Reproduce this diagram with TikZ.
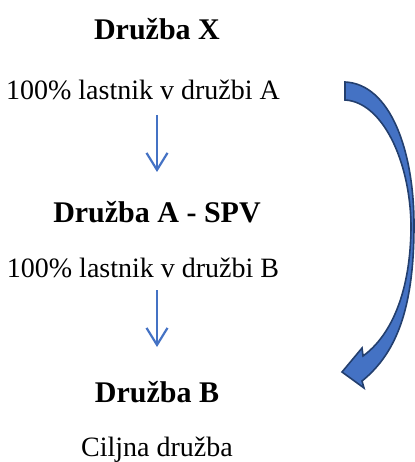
\documentclass[tikz,border=0pt]{standalone}
\usepackage{fontspec}
\setmainfont{Liberation Serif}
\usetikzlibrary{arrows.meta}
\definecolor{accent}{HTML}{4472C4}
\definecolor{accentdark}{HTML}{233F6E}
\tikzset{
  title/.style={anchor=base, font=\fontsize{30}{34}\selectfont\bfseries, inner sep=0pt},
  body/.style={anchor=base, font=\fontsize{28}{32}\selectfont, inner sep=0pt},
  down/.style={draw=accent, line width=2.2pt, -{Straight Barb[length=17pt, width=21pt, line width=2.2pt]}},
  bigarrow/.style={fill=accent, draw=accentdark, line width=1.6pt, line join=miter},
}
\begin{document}
\begin{tikzpicture}[x=1pt, y=-1pt]
  \useasboundingbox (0,0) rectangle (414,462);
  % labels, top to bottom
  \node[title] (dx) at (157,40) {Družba X};
  \node[body]  (la) at (143,100) {100\% lastnik v družbi A};
  \node[title] (da) at (157,222) {Družba A - SPV};
  \node[body]  (lb) at (143,277) {100\% lastnik v družbi B};
  \node[title] (db) at (157,402) {Družba B};
  \node[body]  (cd) at (157,456) {Ciljna družba};
  % ownership links
  \coordinate (a1s) at (157,115);
  \coordinate (a1e) at (157,172);
  \coordinate (a2s) at (157,290);
  \coordinate (a2e) at (157,347);
  \draw[down] (a1s) -- (a1e);
  \draw[down] (a2s) -- (a2e);
  % curved arrow from X straight to B
  \coordinate (t1) at (345,82);
  \coordinate (t2) at (345,100);
  \coordinate (ro) at (414,225);
  \coordinate (ri) at (411,225);
  \coordinate (lo) at (362,381);
  \coordinate (li) at (363,356);
  \coordinate (bl) at (364,388);
  \coordinate (tip) at (342,372);
  \coordinate (bu) at (362,348);
  \draw[bigarrow]
    (t1) .. controls (390,84) and (414,150) .. (ro)
         .. controls (414,305) and (398,352) .. (lo)
    -- (bl) -- (tip) -- (bu) -- (li)
         .. controls (392,335) and (411,290) .. (ri)
         .. controls (410,160) and (382,102) .. (t2)
    -- cycle;
\end{tikzpicture}
\end{document}
